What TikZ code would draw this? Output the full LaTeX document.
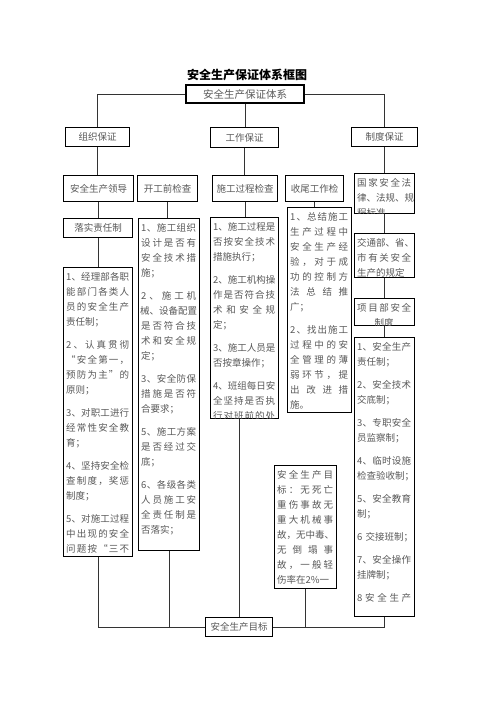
\documentclass[tikz,border=0pt]{standalone}
\usepackage{fontspec}
\newfontfamily\cjk{Noto Sans CJK SC}
\definecolor{txt}{gray}{0.35}
\tikzset{
  bx/.style={draw=black, line width=1.1pt, inner sep=0pt},
  ln/.style={draw=black!80, line width=1pt},
  lbl/.style={font=\cjk\fontsize{9.5}{12}\selectfont, text=txt},
  lst/.style={font=\cjk\fontsize{9.5}{15}\selectfont, text=txt, align=left, inner sep=0pt, anchor=north west},
}
\makeatletter
\def\spr#1{\leavevmode\hbox to\hsize{\spr@a#1\relax}}
\def\spr@a#1{#1\spr@b}
\def\spr@b#1{\ifx\relax#1\else\hfil#1\expandafter\spr@b\fi}
\makeatother
\newcommand\ctr[1]{\leavevmode\hbox to\hsize{\hss #1\hss}}
\newcommand\cbx[6]{\pgfmathsetmacro\bw{#4-#2}\pgfmathsetmacro\bh{#5-#3}%
  \node[bx,lbl,anchor=north west,minimum width=\bw pt,minimum height=\bh pt] (#1) at (#2,#3) {#6};}
\newcommand\tbx[6]{\pgfmathsetmacro\bw{#4-#2}\pgfmathsetmacro\bh{#5-#3}\pgfmathsetmacro\tw{#4-#2-6}%
  \node[bx,anchor=north west,minimum width=\bw pt,minimum height=\bh pt] (#1) at (#2,#3) {};
  \begin{scope}\clip (#2,#3) rectangle (#4,#5);
  \node[lst,text width=\tw pt] (#1t) at (#2+3,#3+5) {#6};\end{scope}}
\begin{document}
\begin{tikzpicture}[x=1pt,y=-1pt]
\useasboundingbox (0,0) rectangle (496,702);
\fill[white] (0,0) rectangle (496,702);
\node[font=\cjk\bfseries\fontsize{12}{14}\selectfont] (title) at (247,75) {安全生产保证体系框图};
\node[bx,font=\cjk\fontsize{10.5}{12}\selectfont,text=txt,minimum width=118pt,minimum height=18pt] (top) at (245,94) {安全生产保证体系};
% row 2
\cbx{zz}{65}{127}{129}{146}{组织保证}
\cbx{gz}{210}{127}{278}{147}{工作保证}
\cbx{zd}{351}{127}{417}{146}{制度保证}
% row 3
\cbx{ld}{63}{175}{133}{201}{安全生产领导}
\cbx{kg}{137}{175}{197}{201}{开工前检查}
\cbx{sg}{212}{175}{277}{201}{施工过程检查}
\cbx{sw}{285}{175}{343}{201}{收尾工作检}
\tbx{gj}{354}{173}{414}{213}{\spr{国家安全法}\\ \spr{律、法规、规}\\ 程标准}
\cbx{ls}{63}{218}{132}{237}{落实责任制}
% lists
\tbx{La}{63}{267}{132}{556}{\spr{1、经理部各职}\\ \spr{能部门各类人}\\ \spr{员的安全生产}\\ 责任制；\\[8pt]
\spr{2、认真贯彻}\\ \spr{“安全第一，}\\ \spr{预防为主”的}\\ 原则；\\[8pt]
\spr{3、对职工进行}\\ \spr{经常性安全教}\\ 育；\\[8pt]
\spr{4、坚持安全检}\\ \spr{查制度，奖惩}\\ 制度；\\[8pt]
\spr{5、对施工过程}\\ \spr{中出现的安全}\\ \spr{问题按“三不}}
\tbx{Lb}{138}{218}{199}{550}{\spr{1、施工组织}\\ \spr{设计是否有}\\ \spr{安全技术措}\\ 施；\\[8pt]
\spr{2、施工机}\\ \ctr{械、设备配置}\\ \spr{是否符合技}\\ \spr{术和安全规}\\ 定；\\[8pt]
\spr{3、安全防保}\\ \spr{措施是否符}\\ 合要求；\\[8pt]
\spr{5、施工方案}\\ \spr{是否经过交}\\ 底；\\[8pt]
\spr{6、各级各类}\\ \spr{人员施工安}\\ \spr{全责任制是}\\ 否落实；}
\tbx{Lc}{210}{217}{278}{418}{\spr{1、施工过程是}\\ \spr{否按安全技术}\\ 措施执行；\\[8pt]
\spr{2、施工机构操}\\ \spr{作是否符合技}\\ \spr{术和安全规}\\ 定；\\[8pt]
\spr{3、施工人员是}\\ 否按章操作；\\[8pt]
\spr{4、班组每日安}\\ \spr{全坚持是否执}\\ \spr{行对班前的处}}
\tbx{Ld}{287}{207}{351}{412}{\spr{1、总结施工}\\ \spr{生产过程中}\\ \spr{安全生产经}\\ \spr{验，对于成}\\ \spr{功的控制方}\\ \spr{法总结推}\\ 广；\\[8pt]
\spr{2、找出施工}\\ \spr{过程中的安}\\ \spr{全管理的薄}\\ \spr{弱环节，提}\\ \spr{出改进措}\\ 施。}
% right column
\tbx{jt}{354}{233}{414}{277}{\spr{交通部、省、}\\ \spr{市有关安全}\\ 生产的规定}
\tbx{xm}{354}{298}{414}{325}{\spr{项目部安全}\\ \ctr{制度}}
\tbx{Le}{354}{337}{414}{616}{\spr{1、安全生产}\\ 责任制；\\[8pt]
\spr{2、安全技术}\\ 交底制；\\[8pt]
\spr{3、专职安全}\\ 员监察制；\\[8pt]
\spr{4、临时设施}\\ \mbox{检查验收制；}\\[8pt]
\spr{5、安全教育}\\ 制；\\[8pt]
\mbox{6 交接班制；}\\[8pt]
\spr{7、安全操作}\\ 挂牌制；\\[8pt]
\spr{8安全生产}}
\tbx{tg}{274}{465}{336}{588}{\spr{安全生产目}\\ \spr{标：无死亡}\\ \spr{重伤事故无}\\ \spr{重大机械事}\\ \spr{故，无中毒、}\\ \spr{无倒塌事}\\ \spr{故，一般轻}\\ 伤率在2\%一}
\cbx{mb}{205}{617}{272}{636}{安全生产目标}
% connectors
\draw[ln] (top.west) -| (zz.north);
\draw[ln] (top.east) -| (zd.north);
\draw[ln] (top.south) -- (top.south |- gz.north);
\draw[ln] (zz.south) -- (zz.south |- ld.north);
\draw[ln] (gz.south) -- (gz.south |- sg.north);
\draw[ln] (zd.south) -- (zd.south |- gj.north);
\draw[ln] (ld.south) -- (ld.south |- ls.north);
\draw[ln] (ls.south) -- (ls.south |- La.north);
\draw[ln] (kg.south) -- (kg.south |- Lb.north);
\draw[ln] (sg.south) -- (sg.south |- Lc.north);
\draw[ln] (sw.south) -- (sw.south |- Ld.north);
\draw[ln] (gj.south) -- (gj.south |- jt.north);
\draw[ln] (jt.south) -- (jt.south |- xm.north);
\draw[ln] (xm.south) -- (xm.south |- Le.north);
\draw[ln] (La.south) |- (mb.west);
\draw[ln] (Lb.south) -- (Lb.south |- mb.west);
\draw[ln] (mb.north) -- (mb.north |- Lc.south);
\draw[ln] (mb.east) -| (Le.south);
\draw[ln] (tg.south) -- (tg.south |- mb.east);
\end{tikzpicture}
\end{document}
